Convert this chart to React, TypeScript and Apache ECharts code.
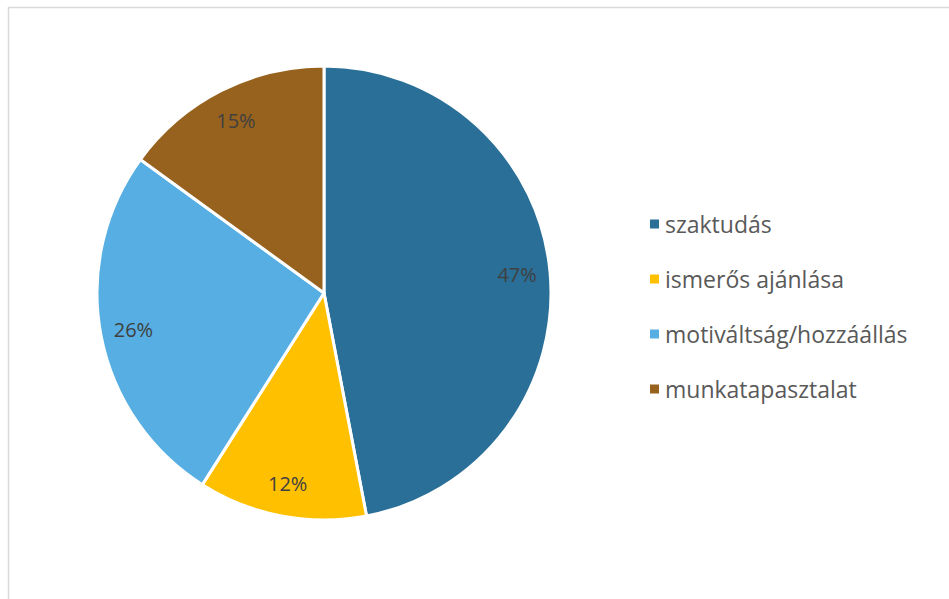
import React, { useEffect, useRef } from "react";
import * as echarts from "echarts";

const categories = ["szaktudás", "ismerős ajánlása", "motiváltság/hozzáállás", "munkatapasztalat"];
const values = [47, 12, 26, 15];
const colors = ["#2A6F97", "#FFC000", "#56AEE2", "#97621E"];

export default function App() {
  const ref = useRef<HTMLDivElement>(null);
  useEffect(() => {
    if (!ref.current) return;
    const chart = echarts.init(ref.current, null, { renderer: "svg" });
    const data = categories.map((name, i) => ({ name, value: values[i], itemStyle: { color: colors[i] } }));
    chart.setOption({
      animation: false,
      color: colors,
      graphic: [
        {
          type: "rect",
          shape: { x: 8.5, y: 7.5, width: 1000, height: 700 },
          style: { fill: "none", stroke: "#D9D9D9", lineWidth: 1.5 },
          silent: true,
        },
      ],
      legend: {
        orient: "vertical",
        left: 643,
        top: 207,
        itemWidth: 11,
        itemHeight: 11,
        itemGap: 31,
        icon: "rect",
        textStyle: { fontFamily: "Open Sans", fontSize: 23, color: "#595959", lineHeight: 24, padding: [0, 0, 0, 0] },
        data: categories,
      },
      series: [
        {
          type: "pie",
          center: [324, 293],
          radius: [0, 227],
          startAngle: 90,
          clockwise: true,
          label: { show: false },
          labelLine: { show: false },
          itemStyle: { borderColor: "#FFFFFF", borderWidth: 3 },
          emphasis: { disabled: true },
          data,
        },
        {
          type: "pie",
          center: [324, 293],
          radius: [156, 226],
          startAngle: 90,
          clockwise: true,
          silent: true,
          legendHoverLink: false,
          itemStyle: { color: "rgba(0,0,0,0)", borderWidth: 0 },
          label: {
            show: true,
            position: "inside",
            formatter: (p: any) => `${p.value}%`,
            fontFamily: "Open Sans",
            fontSize: 20,
            color: "#404040",
          },
          labelLine: { show: false },
          emphasis: { disabled: true },
          data: categories.map((name, i) => ({ name, value: values[i], itemStyle: { color: "rgba(0,0,0,0)" } })),
        },
      ],
    });
    return () => chart.dispose();
  }, []);
  return (
    <div
      ref={ref}
      style={{ position: "fixed", left: 0, top: 0, width: 949, height: 599, background: "#FFFFFF" }}
    />
  );
}
